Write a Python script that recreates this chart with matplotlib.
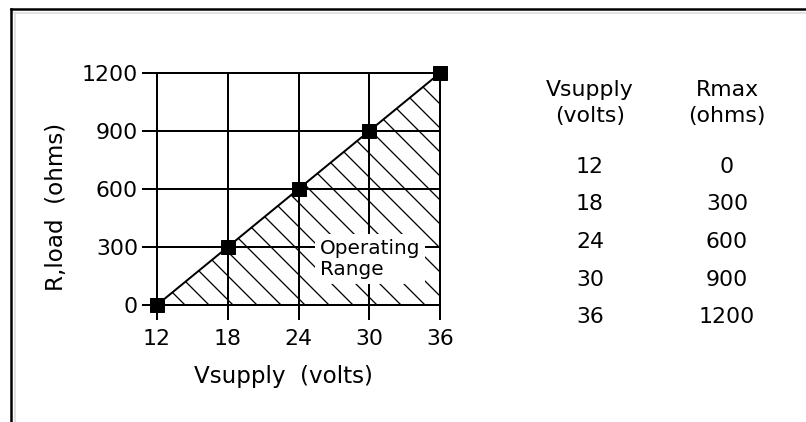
import matplotlib.pyplot as plt
from matplotlib.lines import Line2D

# values
vsupply = [12, 18, 24, 30, 36]
rmax = [0, 300, 600, 900, 1200]
table_heads = ['Vsupply\n(volts)', 'Rmax\n(ohms)']

plt.rcParams['font.family'] = ['DejaVu Sans']
plt.rcParams['hatch.linewidth'] = 1.3

fig = plt.figure(figsize=(806 / 72, 422 / 72), dpi=72)
ax = fig.add_axes([157 / 806, 117 / 422, 283 / 806, 232 / 422])

# shaded operating range under the Rmax line
ax.fill_between(vsupply, rmax, 0, facecolor='white', edgecolor='black',
                hatch='\\', linewidth=0, zorder=1)
ax.plot(vsupply, rmax, color='black', lw=2, zorder=3)
ax.plot(vsupply, rmax, 's', color='black', ms=14, clip_on=False, zorder=4)

ax.set_xlim(12, 36)
ax.set_ylim(0, 1200)
ax.set_xticks(vsupply)
ax.set_yticks(rmax)
ax.grid(True, color='black', lw=2)
for s in ax.spines.values():
    s.set_linewidth(2)
ax.tick_params(direction='out', length=15, width=2, labelsize=22)
ax.tick_params(axis='x', pad=9)
ax.tick_params(axis='y', pad=4)

ax.text(25.8, 237, 'Operating\nRange', fontsize=20, ha='left', va='center',
        linespacing=1.1, zorder=5,
        bbox=dict(facecolor='white', edgecolor='none', pad=5))

fig.text(283 / 806, 1 - 377 / 422, 'Vsupply  (volts)', fontsize=23,
         ha='center', va='center')
fig.text(57 / 806, 1 - 207 / 422, 'R,load  (ohms)', fontsize=23,
         ha='center', va='center', rotation=90)

# the small table on the right
col_x = [590, 727]
for cx, head in zip(col_x, table_heads):
    fig.text(cx / 806, 1 - 103 / 422, head, fontsize=22, ha='center',
             va='center', linespacing=1.35)
for i in range(len(vsupply)):
    ry = 167 + i * 37.5
    fig.text(col_x[0] / 806, 1 - ry / 422, str(vsupply[i]), fontsize=22,
             ha='center', va='center')
    fig.text(col_x[1] / 806, 1 - ry / 422, str(rmax[i]), fontsize=22,
             ha='center', va='center')

# frame lines at the top and left edge
fig.add_artist(Line2D([11 / 806, 1], [1 - 9 / 422] * 2, color='black', lw=2.5))
fig.add_artist(Line2D([11 / 806] * 2, [0, 1 - 9 / 422], color='black', lw=2.5))
fig.add_artist(Line2D([14 / 806, 1], [1 - 12.5 / 422] * 2, color='#d8d8d8', lw=1.5))
fig.add_artist(Line2D([14.5 / 806] * 2, [0, 1 - 12.5 / 422], color='#d8d8d8', lw=1.5))

fig.savefig('out.png', dpi=72)
